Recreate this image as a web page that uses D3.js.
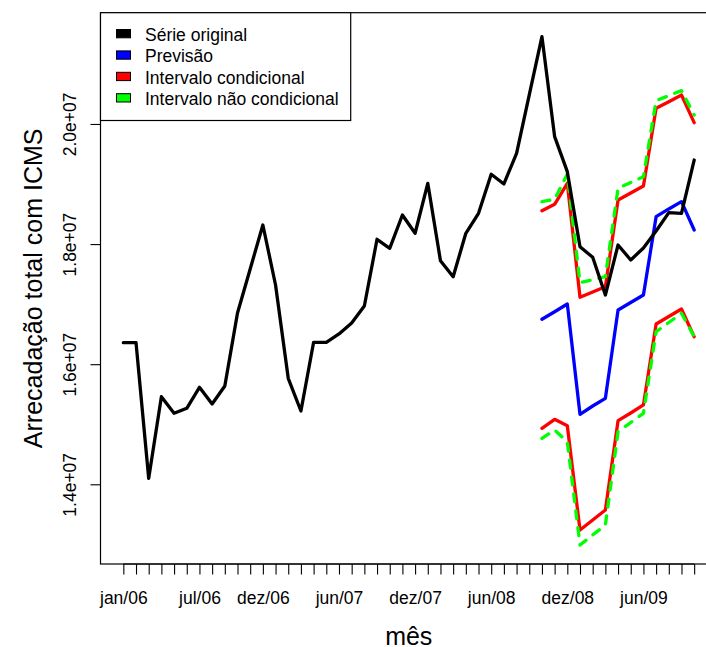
<!DOCTYPE html>
<html>
<head>
<meta charset="utf-8">
<script src="https://cdn.jsdelivr.net/npm/d3@7"></script>
<style>
  body { margin: 0; background: #fff; }
  text { font-family: "Liberation Sans", Arial, sans-serif; fill: #000; }
</style>
</head>
<body>
<svg class="chart"></svg>
<script>
var serie = [16358000, 16358000, 14100000, 15459000, 15182000, 15266000, 15615000, 15337000,
  15637000, 16853000, 17585000, 18318000, 17319000, 15765000, 15221000, 16365000,
  16365000, 16503000, 16686000, 16969000, 18080000, 17930000, 18485000, 18180000,
  19012000, 17724000, 17457000, 18180000, 18513000, 19162000, 19001000, 19512000,
  20483000, 21454000, 19789000, 19206000, 17957000, 17780000, 17152000, 17985000,
  17735000, 17935000, 18218000, 18523000, 18513000, 19400000];

// forecast starts at month 33 (out/08)
var inicioPrev = 33;
var previsao = [16748000, 16874000, 17002000, 15166000, 15304000, 15432000, 16903000,
  17027000, 17152000, 18456000, 18585000, 18706000, 18235000];
var condSup = [18556000, 18663000, 19012000, 17114000, 17202000, 17291000, 18734000,
  18851000, 18968000, 20261000, 20371000, 20483000, 20022000];
var condInf = [14933000, 15082000, 14976000, 13239000, 13406000, 13572000, 15059000,
  15187000, 15321000, 16669000, 16794000, 16919000, 16458000];
var naoCondSup = [18706000, 18746000, 19167000, 17357000, 17407000, 17457000, 18929000,
  19026000, 19122000, 20388000, 20471000, 20555000, 20150000];
var naoCondInf = [14766000, 14904000, 14709000, 12989000, 13156000, 13322000, 14876000,
  15029000, 15182000, 16541000, 16694000, 16848000, 16458000];

var nMeses = 46;
var tickLabels = ["jan/06", "jul/06", "dez/06", "jun/07", "dez/07", "jun/08", "dez/08", "jun/09"];
var tickMeses = [0, 6, 11, 17, 23, 29, 35, 41];
var yTicks = [14000000, 16000000, 18000000, 20000000];

var legendLabels = ["Série original", "Previsão", "Intervalo condicional", "Intervalo não condicional"];
var legendColors = ["#000000", "#0000ff", "#ff0000", "#00ff00"];

var W = 706, H = 647;
var plotL = 100.5, plotR = 717, plotT = 12.7, plotB = 564;

var svg = d3.select(".chart")
    .attr("width", W)
    .attr("height", H);

svg.append("rect")
    .attr("width", W)
    .attr("height", H)
    .attr("fill", "#fff");

var x = d3.scaleLinear().domain([-1.8, 46.8]).range([plotL, plotR]);
var y = d3.scaleLinear().domain([12673000, 21853000]).range([plotB, plotT]);

function fmtE(v) {
  return d3.format(".1e")(v).replace(/e([+-])(\d)$/, "e$10$2");
}

// x axis
var xAxis = d3.axisBottom(x)
    .tickValues(d3.range(nMeses))
    .tickSize(10.5)
    .tickFormat(function(d) {
      var k = tickMeses.indexOf(d);
      return k < 0 ? "" : tickLabels[k];
    });

var gx = svg.append("g")
    .attr("transform", "translate(0," + plotB + ")")
    .call(xAxis);
gx.select(".domain").remove();
gx.selectAll("line").attr("stroke", "#000").attr("stroke-width", 1.1);
gx.selectAll("text")
    .attr("y", 40)
    .attr("dy", 0)
    .style("font-size", "17.5px")
    .attr("fill", "#000");

svg.append("line")
    .attr("x1", x(0))
    .attr("x2", x(nMeses - 1))
    .attr("y1", plotB)
    .attr("y2", plotB)
    .attr("stroke", "#000")
    .attr("stroke-width", 1.1);

// y axis
var yAxis = d3.axisLeft(y)
    .tickValues(yTicks)
    .tickSize(10)
    .tickFormat(fmtE);

var gy = svg.append("g")
    .attr("transform", "translate(" + plotL + ",0)")
    .call(yAxis);
gy.select(".domain").remove();
gy.selectAll("line").attr("stroke", "#000").attr("stroke-width", 1.1);
gy.selectAll("text")
    .attr("transform", "rotate(-90)")
    .attr("x", 0)
    .attr("y", -24.5)
    .attr("dy", 0)
    .style("text-anchor", "middle")
    .style("font-size", "17.5px")
    .attr("fill", "#000");

// plot box
svg.append("rect")
    .attr("x", plotL)
    .attr("y", plotT)
    .attr("width", plotR - plotL)
    .attr("height", plotB - plotT)
    .attr("fill", "none")
    .attr("stroke", "#000")
    .attr("stroke-width", 1.2);

// series
var line = function(offset) {
  return d3.line()
      .x(function(d, i) { return x(offset + i); })
      .y(function(d) { return y(d); });
};

function draw(data, offset, color, dash) {
  svg.append("path")
      .datum(data)
      .attr("d", line(offset))
      .attr("fill", "none")
      .attr("stroke", color)
      .attr("stroke-width", 3.3)
      .attr("stroke-linejoin", "round")
      .attr("stroke-linecap", "round")
      .attr("stroke-dasharray", dash || null);
}

draw(condSup, inicioPrev, legendColors[2]);
draw(condInf, inicioPrev, legendColors[2]);
draw(naoCondSup, inicioPrev, legendColors[3], "8,9");
draw(naoCondInf, inicioPrev, legendColors[3], "8,9");
draw(previsao, inicioPrev, legendColors[1]);
draw(serie, 0, legendColors[0]);

// legend
svg.append("rect")
    .attr("x", plotL)
    .attr("y", plotT)
    .attr("width", 250.2)
    .attr("height", 107.8)
    .attr("fill", "#fff")
    .attr("stroke", "#000")
    .attr("stroke-width", 1.2);

var leg = svg.selectAll(".leg")
    .data(legendLabels)
    .enter().append("g")
    .attr("class", "leg")
    .attr("transform", function(d, i) { return "translate(0," + (40.7 + i * 21.4) + ")"; });

leg.append("rect")
    .attr("x", 116.5)
    .attr("y", -11.2)
    .attr("width", 14)
    .attr("height", 8.3)
    .attr("fill", function(d, i) { return legendColors[i]; })
    .attr("stroke", "#000")
    .attr("stroke-width", 1);

leg.append("text")
    .attr("x", 145)
    .attr("y", 0)
    .style("font-size", "17.5px")
    .text(function(d) { return d; });

// axis titles
svg.append("text")
    .attr("x", (plotL + plotR) / 2)
    .attr("y", 645)
    .style("text-anchor", "middle")
    .style("font-size", "25px")
    .text("mês");

svg.append("text")
    .attr("transform", "translate(41.7," + ((plotT + plotB) / 2) + ") rotate(-90)")
    .style("text-anchor", "middle")
    .style("font-size", "25px")
    .text("Arrecadação total com ICMS");
</script>
</body>
</html>
